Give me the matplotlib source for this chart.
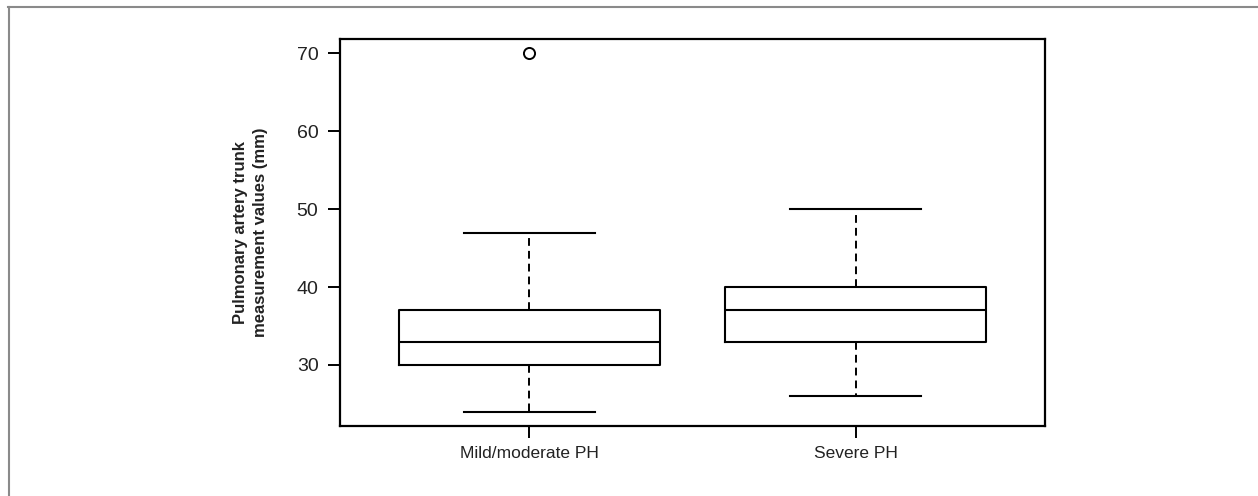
import matplotlib
matplotlib.use("Agg")
import matplotlib.pyplot as plt
from matplotlib.lines import Line2D
from matplotlib import font_manager

names = {f.name for f in font_manager.fontManager.ttflist}
fam = "Liberation Sans Narrow" if "Liberation Sans Narrow" in names else "Liberation Sans"
plt.rcParams['font.family'] = [fam, 'DejaVu Sans']

categories = ["Mild/moderate PH", "Severe PH"]
whislo = [24, 26]
q1 = [30, 33]
med = [33, 37]
q3 = [37, 40]
whishi = [47, 50]
outliers = [[70], []]
y_ticks = [30, 40, 50, 60, 70]

stats = []
for i, c in enumerate(categories):
    stats.append(dict(label=c, whislo=whislo[i], q1=q1[i], med=med[i],
                      q3=q3[i], whishi=whishi[i], fliers=outliers[i]))

fig = plt.figure(figsize=(12.58, 4.96), dpi=100)
W, H = 1258, 496
ax = fig.add_axes([340 / W, 1 - 426 / H, (1045 - 340) / W, (426 - 39) / H])

lw = 1.5
txt = "#222222"
ax.bxp(stats, positions=[1, 2], widths=0.8, showfliers=True,
       boxprops=dict(color="black", linewidth=lw),
       medianprops=dict(color="black", linewidth=lw),
       whiskerprops=dict(color="black", linewidth=1.4, linestyle=(0, (4, 2.6))),
       capprops=dict(color="black", linewidth=lw),
       flierprops=dict(marker="o", markerfacecolor="white", markeredgecolor="black",
                       markersize=8, markeredgewidth=1.4),
       capwidths=0.4)

ax.set_xlim(0.42, 2.58)
ax.set_ylim(22.16, 71.84)
ax.set_yticks(y_ticks)
ax.set_xticks([1, 2])
ax.set_xticklabels(categories, fontsize=12.5, color=txt)
ax.tick_params(axis="y", labelsize=14, length=8.5, width=1.4, pad=7, labelcolor=txt)
ax.tick_params(axis="x", length=8.5, width=1.4, pad=6)
for s in ax.spines.values():
    s.set_linewidth(1.6)
ax.set_ylabel("Pulmonary artery trunk\nmeasurement values (mm)", fontsize=12,
              fontweight="bold", linespacing=1.45, color=txt)
ax.yaxis.set_label_coords((268 - 340) / 705, 0.5)

# outer gray frame (top and left)
fig.add_artist(Line2D([8 / W, 1], [1 - 6.5 / H, 1 - 6.5 / H], color="#8a8a8a", lw=1.5,
                      transform=fig.transFigure))
fig.add_artist(Line2D([8.5 / W, 8.5 / W], [0, 1 - 6.5 / H], color="#8a8a8a", lw=1.5,
                      transform=fig.transFigure))

fig.savefig("out.png", dpi=100)
